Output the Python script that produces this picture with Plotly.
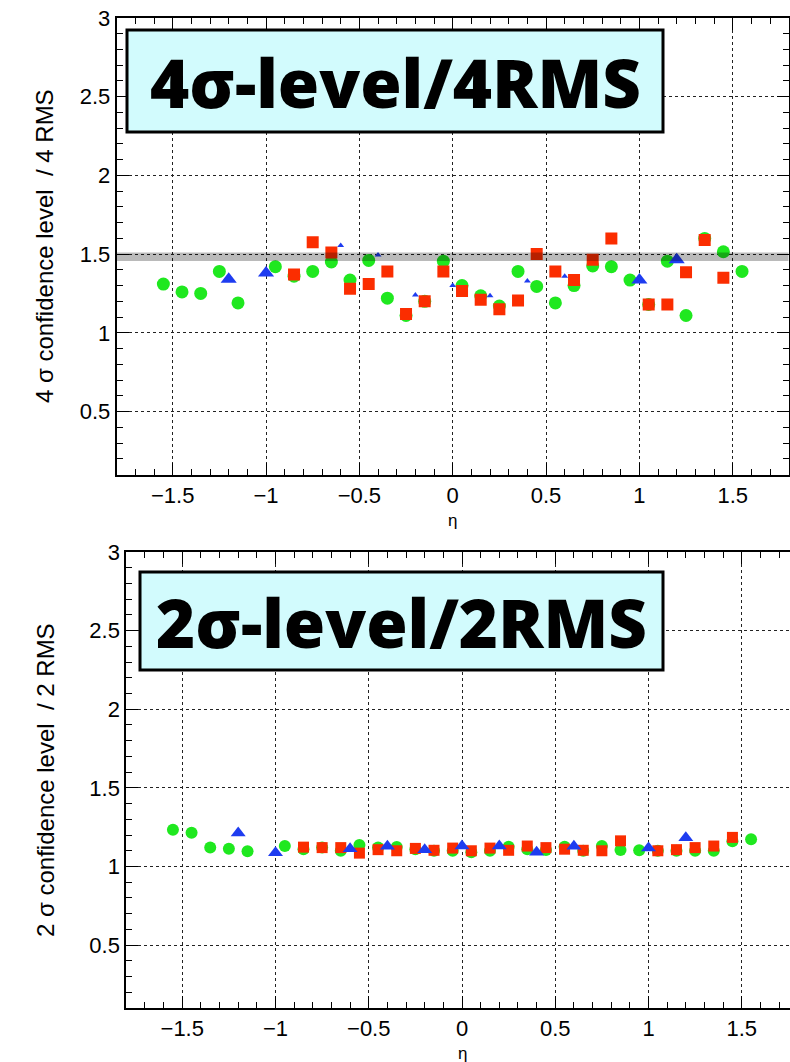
import plotly.graph_objects as go

# ---------------- data ----------------
# top panel: 4 sigma level / 4 RMS
eta_green_top = [-1.55, -1.45, -1.35, -1.25, -1.15, -0.95, -0.85, -0.75, -0.65, -0.55, -0.45,
                 -0.35, -0.25, -0.15, -0.05, 0.05, 0.15, 0.25, 0.35, 0.45, 0.55, 0.65, 0.75,
                 0.85, 0.95, 1.05, 1.15, 1.25, 1.35, 1.45, 1.55]
val_green_top = [1.31, 1.26, 1.25, 1.39, 1.19, 1.42, 1.36, 1.39, 1.45, 1.335, 1.46,
                 1.22, 1.11, 1.20, 1.455, 1.30, 1.235, 1.17, 1.39, 1.295, 1.19, 1.30, 1.425,
                 1.42, 1.335, 1.18, 1.455, 1.11, 1.60, 1.515, 1.39]

eta_red_top = [-0.85, -0.75, -0.65, -0.55, -0.45, -0.35, -0.25, -0.15, -0.05, 0.05, 0.15, 0.25,
               0.35, 0.45, 0.55, 0.65, 0.75, 0.85, 1.05, 1.15, 1.25, 1.35, 1.45]
val_red_top = [1.37, 1.575, 1.51, 1.28, 1.31, 1.39, 1.12, 1.20, 1.39, 1.265, 1.21, 1.15,
               1.205, 1.50, 1.39, 1.335, 1.465, 1.60, 1.18, 1.18, 1.385, 1.59, 1.35]

eta_blue_top = [-1.2, -1.0, 1.0, 1.2]
val_blue_top = [1.34, 1.38, 1.335, 1.465]
eta_blue_small_top = [-0.6, -0.4, -0.2, 0.0, 0.2, 0.4, 0.6]
val_blue_small_top = [1.555, 1.495, 1.24, 1.30, 1.235, 1.33, 1.36]

band_low, band_high = 1.457, 1.51

# bottom panel: 2 sigma level / 2 RMS
eta_green_bot = eta_green_top
val_green_bot = [1.233, 1.215, 1.12, 1.113, 1.097, 1.13, 1.11, 1.12, 1.10, 1.137, 1.12,
                 1.124, 1.11, 1.10, 1.10, 1.09, 1.10, 1.125, 1.11, 1.105, 1.125, 1.10, 1.13,
                 1.105, 1.103, 1.10, 1.10, 1.10, 1.10, 1.16, 1.173]

eta_red_bot = eta_red_top
val_red_bot = [1.123, 1.12, 1.12, 1.085, 1.107, 1.10, 1.115, 1.103, 1.117, 1.10, 1.117, 1.103,
               1.13, 1.12, 1.11, 1.103, 1.10, 1.163, 1.10, 1.107, 1.12, 1.13, 1.185]

eta_blue_bot = [-1.2, -1.0, -0.6, -0.4, -0.2, 0.0, 0.2, 0.4, 0.6, 1.0, 1.2]
val_blue_bot = [1.213, 1.087, 1.113, 1.128, 1.107, 1.13, 1.13, 1.09, 1.128, 1.118, 1.183]

title_top = "4σ-level/4RMS"
title_bot = "2σ-level/2RMS"
ytitle_top = "4 σ confidence level  / 4 RMS"
ytitle_bot = "2 σ confidence level  / 2 RMS"
xtitle = "η"

# ---------------- style ----------------
W, H = 790, 1062
GREEN = "#1fe81f"
RED = "#fb2d00"
BLUE = "#1e3cf0"
FONT = "Liberation Sans, Arial, sans-serif"


def px(x):
    return x / W


def py(y):
    return 1 - y / H


fig = go.Figure()


def add_points(x, y, color, symbol, size, xa, ya):
    fig.add_trace(go.Scatter(x=x, y=y, mode="markers", xaxis=xa, yaxis=ya,
                             marker=dict(color=color, symbol=symbol, size=size,
                                         line=dict(width=0)),
                             showlegend=False, hoverinfo="x+y"))


add_points(eta_green_top, val_green_top, GREEN, "circle", 13, "x", "y")
add_points(eta_red_top, val_red_top, RED, "square", 12, "x", "y")
add_points(eta_blue_top, val_blue_top, BLUE, "triangle-up", 14, "x", "y")
add_points(eta_blue_small_top, val_blue_small_top, BLUE, "triangle-up", 6, "x", "y")

add_points(eta_green_bot, val_green_bot, GREEN, "circle", 12, "x2", "y2")
add_points(eta_red_bot, val_red_bot, RED, "square", 11, "x2", "y2")
add_points(eta_blue_bot, val_blue_bot, BLUE, "triangle-up", 13, "x2", "y2")

axis_common = dict(
    automargin=False,
    showline=True, linecolor="black", linewidth=2,
    ticks="inside", ticklen=12, tickwidth=1, tickcolor="black",
    showgrid=True, gridcolor="#222222", griddash="dot", gridwidth=1,
    zeroline=False, tickfont=dict(family=FONT, size=22, color="black"),
    minor=dict(ticks="inside", ticklen=6, tickwidth=1, tickcolor="black",
               dtick=0.1, tick0=0, showgrid=False),
    dtick=0.5, tick0=0,
)

fig.update_layout(
    width=W, height=H,
    margin=dict(l=0, r=0, t=0, b=0),
    paper_bgcolor="white", plot_bgcolor="white",
    xaxis=dict(axis_common, domain=[px(116.7), px(788.7)], range=[-1.8, 1.8],
               anchor="y", mirror="ticks"),
    yaxis=dict(axis_common, domain=[py(474.5), py(18)], range=[0.1, 3.0],
               anchor="x", mirror="ticks", tickvals=[0.5, 1, 1.5, 2, 2.5, 3],
               ticktext=["0.5", "1", "1.5", "2", "2.5", "3"]),
    xaxis2=dict(axis_common, domain=[px(126.3), 1.0], range=[-1.8, (790 - 462) / 186.5],
                anchor="y2", mirror="ticks"),
    yaxis2=dict(axis_common, domain=[py(1008), py(552)], range=[0.1, 3.0],
                anchor="x2", mirror=False, tickvals=[0.5, 1, 1.5, 2, 2.5, 3],
                ticktext=["0.5", "1", "1.5", "2", "2.5", "3"]),
)

# grey band at 1.5 in top panel (drawn above markers, semi-transparent)
fig.add_shape(type="rect", xref="x", yref="y", x0=-1.8, x1=1.8, y0=band_low, y1=band_high,
              fillcolor="rgba(0,0,0,0.27)", line=dict(width=0), layer="above")

# title boxes
for (x0, y0, x1, y1, txt) in [(127, 30, 663, 132, title_top), (140, 572, 663, 670, title_bot)]:
    fig.add_shape(type="rect", xref="paper", yref="paper",
                  x0=px(x0), x1=px(x1), y0=py(y1), y1=py(y0),
                  fillcolor="#d2fbfd", line=dict(color="black", width=3), layer="above")
    fig.add_annotation(xref="paper", yref="paper", x=px((x0 + x1) / 2), y=py((y0 + y1) / 2 + 1),
                       text=txt, showarrow=False,
                       font=dict(family="Open Sans, Lato, sans-serif", size=67, color="black",
                                 weight=800),
                       xanchor="center", yanchor="middle")

# axis titles
for (x, y, txt, ang, size) in [(45, 246, ytitle_top, -90, 24), (45, 780, ytitle_bot, -90, 24),
                               (453, 520, xtitle, 0, 17), (462, 1053, xtitle, 0, 17)]:
    fig.add_annotation(xref="paper", yref="paper", x=px(x), y=py(y), text=txt,
                       textangle=ang, showarrow=False, xanchor="center", yanchor="middle",
                       font=dict(family=FONT, size=size, color="black"))

fig.write_html("out.html", config={"displayModeBar": False},
               post_script="document.body.style.margin='0px';")
